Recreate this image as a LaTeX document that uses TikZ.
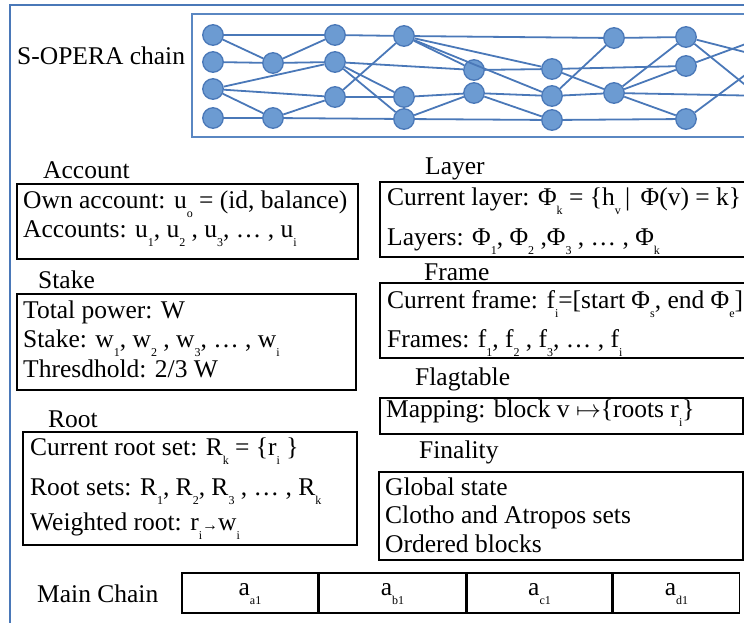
\documentclass[tikz,border=0pt]{standalone}
\usepackage{fontspec}
\setmainfont{Liberation Serif}
\usetikzlibrary{positioning}
\definecolor{dagline}{HTML}{4A78B8}
\definecolor{dagfill}{HTML}{6C9BD2}
\definecolor{dagframe}{HTML}{5A87C2}
\newcommand{\lo}[1]{\raisebox{-9pt}{\fontsize{12}{12}\selectfont #1}}
\tikzset{
  vert/.style={circle,fill=dagfill,draw=dagline,line width=1.3pt,minimum size=20.5pt,inner sep=0pt},
  link/.style={draw=dagline,line width=1.8pt},
  infobox/.style={draw=black,line width=1.5pt},
  heading/.style={anchor=base west,inner sep=0pt},
  entry/.style={anchor=base west,inner sep=0pt},
  cell/.style={draw=black,line width=1.5pt,minimum height=40pt,inner ysep=0pt,
    text height=22pt,text depth=18pt},
  every node/.append style={font=\fontsize{25.5}{30}\selectfont}
}

\begin{document}
\begin{tikzpicture}[x=1pt,y=-1pt]
\useasboundingbox (0,0) rectangle (744,623);
\clip (0,0) rectangle (744,623);
\draw[dagline,line width=1.2pt] (10,5) rectangle (800,700);
\draw[dagframe,line width=2.2pt] (192,14) rectangle (800,137);
\node[heading] (chainlabel) at (17,65) {S-OPERA chain};
% DAG of events
\foreach \n/\x/\y in {a1/213/35,a2/213/62,a3/213/89,a4/213/118,b1/273/63,b2/273/118,
    c1/335/35,c2/335/62,c3/335/97,d1/404/36,d2/404/97,d3/404/119,e1/474/70,e2/474/93,
    f1/552/69,f2/552/96,f3/552/120,g1/614/38,g2/614/93,h1/686/37,h2/686/66,h3/686/119}
  \node[vert] (\n) at (\x,\y) {};
\coordinate (q1) at (770,35);
\coordinate (q2) at (768,58);
\coordinate (q3) at (770,105);
\coordinate (q4) at (770,96);
\foreach \s/\t in {a1/c1,a1/b1,a2/b1,b1/c1,b1/c2,a3/c2,a3/c3,a3/b2,a4/b2,b2/c3,b2/d3,
    c1/d1,c2/e1,c2/d2,c2/d3,c3/d1,c3/d2,d1/g1,d1/e1,d1/f1,d1/f2,d2/e2,d3/e2,d3/f3,
    e1/f1,e2/f2,e2/f3,f1/h2,f1/g2,f2/g1,f2/g2,f3/h3,g1/h1,g2/h1,g2/h2,g2/h3,
    h1/q2,h1/q3,h2/q1,h3/q2,g2/q4}
  \draw[link] (\s) -- (\t);
% left column
\node[heading] (acchead) at (43,178) {Account};
\draw[infobox] (17,184) rectangle (358,259);
\node[entry] (own) at (23,208) {Own account: u\lo{o} = (id, balance)};
\node[entry] (accs) at (23,237) {Accounts: u\lo{1}, u\lo{2} , u\lo{3}, … , u\lo{i}};
\node[heading] (stakehead) at (38,288) {Stake};
\draw[infobox] (17,294) rectangle (356,390);
\node[entry] (power) at (23,318) {Total power: W};
\node[entry] (stakes) at (23,347) {Stake: w\lo{1}, w\lo{2} , w\lo{3}, … , w\lo{i}};
\node[entry] (thresh) at (23,377) {Thresdhold: 2/3 W};
\node[heading] (roothead) at (48,427) {Root};
\draw[infobox] (23,432) rectangle (357,545);
\node[entry] (curroot) at (30,455) {Current root set: R\lo{k} = \{r\lo{i} \}};
\node[entry] (rootsets) at (30,495) {Root sets: R\lo{1}, R\lo{2}, R\lo{3} , … , R\lo{k}};
\node[entry] (wroot) at (30,530) {Weighted root: r\lo{i}{\fontsize{16}{16}\selectfont →}w\lo{i}};
% right column
\node[heading] (layerhead) at (425,175) {Layer};
\draw[infobox] (380,182) rectangle (752,257);
\node[entry] (curlayer) at (387,205) {Current layer: Φ\lo{k} = \{h\lo{v}\,|\,  Φ(v) = k\}};
\node[entry] (layers) at (387,245) {Layers: Φ\lo{1}, Φ\lo{2} ,Φ\lo{3} , … , Φ\lo{k}};
\node[heading] (framehead) at (424,280) {Frame};
\draw[infobox] (380,283) rectangle (752,358);
\node[entry] (curframe) at (387,308) {Current frame: f\lo{i}=[start Φ\lo{s}, end Φ\lo{e}]};
\node[entry] (frames) at (387,347) {Frames: f\lo{1}, f\lo{2} , f\lo{3}, … , f\lo{i}};
\node[heading] (flaghead) at (415,385) {Flagtable};
\draw[infobox] (380,398) rectangle (743,434);
\node[entry] (mapping) at (386,417) {Mapping: block v $\mapsto$\{roots r\lo{i}\}};
\node[heading] (finhead) at (419,458) {Finality};
\draw[infobox] (379,472) rectangle (743,560);
\node[entry] (gstate) at (385,495) {Global state};
\node[entry] (clotho) at (385,523) {Clotho and Atropos sets};
\node[entry] (ordered) at (385,552) {Ordered blocks};
% main chain
\node[heading] (mainlabel) at (37,602) {Main Chain};
\node[cell,minimum width=136pt] (ma) at (250,593) {a\lo{a1}};
\node[cell,minimum width=146pt,right=0pt of ma] (mb) {a\lo{b1}};
\node[cell,minimum width=145pt,right=0pt of mb] (mc) {a\lo{c1}};
\node[cell,minimum width=126pt,right=0pt of mc] (md) {a\lo{d1}};
\end{tikzpicture}
\end{document}
